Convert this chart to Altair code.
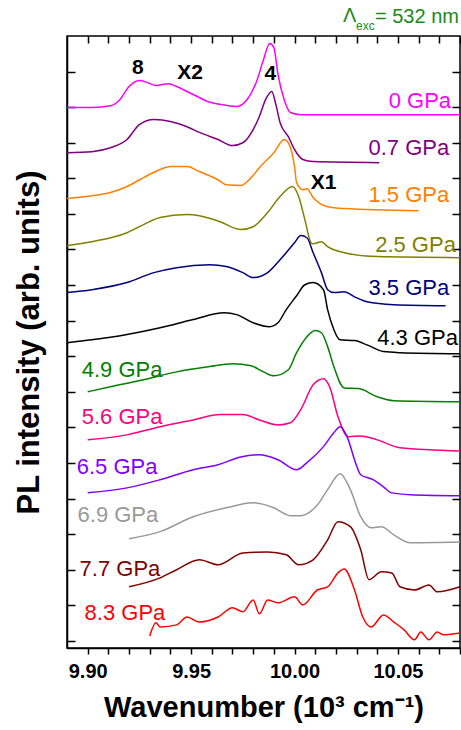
import altair as alt
import pandas as pd

FONT = "Liberation Sans"

series_names = ["0 GPa", "0.7 GPa", "1.5 GPa", "2.5 GPa", "3.5 GPa", "4.3 GPa",
                "4.9 GPa", "5.6 GPa", "6.5 GPa", "6.9 GPa", "7.7 GPa", "8.3 GPa"]
series_colors = ["#ff00ff", "#800080", "#ff8000", "#808000", "#000080", "#000000",
                 "#008000", "#ff0080", "#8000ff", "#999999", "#800000", "#ff0000"]

# spectra (wavenumber in 10^3 cm^-1, PL intensity in arb. units incl. vertical offset)
wn_00 = [9.890, 9.902, 9.911, 9.9155, 9.920, 9.925, 9.929, 9.933, 9.939, 9.943, 9.948, 9.953, 9.958,
         9.964, 9.972, 9.977, 9.982, 9.985, 9.988, 9.990, 9.992, 9.995, 9.998, 10.003, 10.080]
pl_00 = [14.99, 14.99, 15.04, 15.21, 15.58, 15.75, 15.69, 15.61, 15.66, 15.58, 15.44, 15.30, 15.16,
         15.08, 15.02, 15.21, 15.78, 16.34, 16.79, 16.68, 15.92, 15.21, 14.85, 14.79, 14.79]

wn_07 = [9.890, 9.902, 9.911, 9.919, 9.925, 9.932, 9.940, 9.948, 9.954, 9.963, 9.970, 9.975, 9.980,
         9.983, 9.986, 9.989, 9.991, 9.993, 9.997, 10.000, 10.004, 10.009, 10.041]
pl_07 = [13.72, 13.75, 13.86, 14.09, 14.51, 14.65, 14.60, 14.45, 14.29, 14.09, 13.92, 14.00, 14.37,
         14.74, 15.21, 15.44, 15.07, 14.57, 14.17, 13.81, 13.53, 13.47, 13.44]

wn_15 = [9.890, 9.902, 9.911, 9.919, 9.927, 9.935, 9.940, 9.948, 9.954, 9.963, 9.967, 9.974, 9.979,
         9.983, 9.990, 9.995, 9.997, 10.000, 10.001, 10.004, 10.006, 10.009, 10.016, 10.024, 10.060]
pl_15 = [12.43, 12.51, 12.60, 12.77, 13.02, 13.25, 13.33, 13.33, 13.19, 12.96, 12.82, 12.80, 13.02,
         13.30, 13.72, 14.09, 14.00, 13.33, 12.88, 12.68, 12.71, 12.46, 12.20, 12.15, 12.09]

wn_25 = [9.890, 9.902, 9.919, 9.927, 9.935, 9.948, 9.954, 9.964, 9.974, 9.980, 9.987, 9.993, 9.999,
         10.002, 10.005, 10.008, 10.009, 10.013, 10.016, 10.024, 10.040, 10.080]
pl_25 = [11.11, 11.22, 11.47, 11.70, 11.90, 11.98, 11.95, 11.78, 11.56, 11.64, 12.04, 12.49, 12.77,
         12.49, 11.84, 11.19, 11.16, 11.22, 11.08, 10.91, 10.80, 10.77]

wn_35 = [9.890, 9.902, 9.919, 9.932, 9.943, 9.959, 9.967, 9.975, 9.980, 9.987, 9.993, 10.000, 10.003,
         10.006, 10.009, 10.013, 10.016, 10.019, 10.024, 10.029, 10.035, 10.048, 10.073]
pl_35 = [9.79, 9.87, 10.07, 10.35, 10.49, 10.57, 10.52, 10.35, 10.21, 10.35, 10.71, 11.19, 11.39,
         11.33, 10.91, 10.35, 9.87, 9.79, 9.81, 9.67, 9.53, 9.45, 9.42]

wn_43 = [9.890, 9.902, 9.919, 9.935, 9.951, 9.966, 9.972, 9.980, 9.988, 9.992, 9.996, 10.001, 10.005,
         10.009, 10.014, 10.016, 10.019, 10.022, 10.029, 10.035, 10.043, 10.051, 10.080]
pl_43 = [8.38, 8.46, 8.61, 8.80, 9.03, 9.22, 9.17, 8.94, 8.83, 8.94, 9.31, 9.70, 10.01,
         10.07, 9.87, 9.31, 8.75, 8.46, 8.44, 8.32, 8.13, 8.10, 8.07]

wn_49 = [9.900, 9.911, 9.927, 9.943, 9.959, 9.970, 9.979, 9.985, 9.990, 9.997, 10.001, 10.006, 10.010,
         10.013, 10.016, 10.019, 10.024, 10.031, 10.040, 10.048, 10.080]
pl_49 = [7.00, 7.14, 7.34, 7.56, 7.71, 7.79, 7.73, 7.56, 7.45, 7.62, 8.10, 8.55, 8.72,
         8.66, 8.27, 7.71, 7.11, 7.09, 6.86, 6.75, 6.72]

wn_56 = [9.900, 9.919, 9.935, 9.951, 9.964, 9.975, 9.983, 9.992, 9.998, 10.003, 10.009, 10.014, 10.017,
         10.021, 10.026, 10.032, 10.040, 10.051, 10.080]
pl_56 = [5.65, 5.79, 6.02, 6.21, 6.36, 6.36, 6.21, 6.07, 6.13, 6.50, 7.20, 7.37, 7.14,
         6.30, 5.74, 5.76, 5.65, 5.43, 5.34]

wn_65 = [9.900, 9.919, 9.935, 9.951, 9.963, 9.974, 9.983, 9.992, 10.001, 10.006, 10.014, 10.019, 10.022,
         10.026, 10.029, 10.032, 10.038, 10.043, 10.047, 10.056, 10.080]
pl_65 = [4.16, 4.30, 4.53, 4.81, 4.95, 5.17, 5.23, 5.09, 4.81, 5.01, 5.46, 5.85, 6.02,
         5.65, 5.09, 4.67, 4.53, 4.33, 4.16, 4.11, 4.08]

wn_69 = [9.920, 9.935, 9.951, 9.967, 9.980, 9.990, 9.998, 10.003, 10.011, 10.016, 10.022, 10.027, 10.032,
         10.037, 10.042, 10.048, 10.056, 10.080]
pl_69 = [2.87, 3.07, 3.49, 3.74, 3.88, 3.74, 3.52, 3.52, 3.82, 4.25, 4.70, 4.25, 3.49,
         3.18, 3.21, 2.98, 2.76, 2.78]

wn_77 = [9.920, 9.935, 9.943, 9.954, 9.963, 9.975, 9.987, 9.996, 10.002, 10.009, 10.016, 10.021, 10.027,
         10.032, 10.036, 10.042, 10.047, 10.051, 10.058, 10.065, 10.069, 10.080]
pl_77 = [1.52, 1.77, 2.00, 2.28, 2.14, 2.47, 2.50, 2.42, 2.14, 2.28, 2.84, 3.35, 3.21,
         2.56, 1.72, 1.94, 1.91, 1.52, 1.43, 1.57, 1.38, 1.52]

wn_83 = [9.930, 9.933, 9.935, 9.943, 9.948, 9.954, 9.963, 9.970, 9.975, 9.980, 9.983, 9.987, 9.992,
         10.000, 10.004, 10.011, 10.016, 10.021, 10.024, 10.029, 10.033, 10.037, 10.043, 10.048,
         10.053, 10.058, 10.061, 10.065, 10.069, 10.072, 10.080]
pl_83 = [0.14, 0.51, 0.39, 0.45, 0.67, 0.53, 0.67, 0.93, 0.82, 1.15, 0.76, 1.15, 1.07,
         1.24, 1.01, 1.43, 1.52, 1.91, 2.02, 1.43, 0.67, 0.39, 0.73, 0.53,
         0.31, 0.03, 0.25, 0.03, 0.25, 0.17, 0.22]

all_wn = [wn_00, wn_07, wn_15, wn_25, wn_35, wn_43, wn_49, wn_56, wn_65, wn_69, wn_77, wn_83]
all_pl = [pl_00, pl_07, pl_15, pl_25, pl_35, pl_43, pl_49, pl_56, pl_65, pl_69, pl_77, pl_83]

# pressure labels
label_x = [10.0757, 10.0748, 10.0748, 10.0780, 10.0748, 10.0790,
           9.8971, 9.8971, 9.8947, 9.8951, 9.8961, 9.8985]
label_y = [15.16, 13.86, 12.54, 11.14, 9.93, 8.52,
           7.62, 6.30, 4.89, 3.54, 2.02, 0.79]

# peak assignments
peak_names = ["8", "X2", "4", "X1"]
peak_x = [9.9243, 9.9495, 9.9883, 10.0141]
peak_y = [16.11, 15.97, 15.92, 12.88]

x_ticks = [9.90, 9.91, 9.92, 9.93, 9.94, 9.95, 9.96, 9.97, 9.98, 9.99,
           10.00, 10.01, 10.02, 10.03, 10.04, 10.05, 10.06, 10.07, 10.08]
x_labels = ["9.90", "9.95", "10.00", "10.05"]
y_ticks = [0, 1, 2, 3, 4, 5, 6, 7, 8, 9, 10, 11, 12, 13, 14, 15, 16]

rows = []
for name, wns, pls in zip(series_names, all_wn, all_pl):
    for w, p in zip(wns, pls):
        rows.append({"series": name, "wn": w, "pl": p})
df = pd.DataFrame(rows)

lab_df = pd.DataFrame({"series": series_names, "x": label_x, "y": label_y})
peak_df = pd.DataFrame({"name": peak_names, "x": peak_x, "y": peak_y})

W, H = 393, 612
xs = alt.Scale(domain=[9.89, 10.08], nice=False, zero=False)
ys = alt.Scale(domain=[-0.2, 17.0], nice=False, zero=False)
cs = alt.Scale(domain=series_names, range=series_colors)

label_expr = "indexof(" + str(x_labels) + ", format(datum.value, '.2f')) >= 0 ? format(datum.value, '.2f') : ''"

lines = alt.Chart(df).mark_line(strokeWidth=1.5, interpolate="monotone").encode(
    x=alt.X("wn:Q", scale=xs, axis=alt.Axis(
        values=x_ticks, labelExpr=label_expr, labelOverlap=False, grid=False,
        tickSize=6, tickWidth=1.5, tickColor="black", domainColor="black", domainWidth=1.5,
        labelFont=FONT, labelFontSize=20, labelFontWeight="bold", labelColor="black", labelPadding=7,
        title="Wavenumber (10³ cm⁻¹)", titleFont=FONT, titleFontSize=29, titleFontWeight="bold",
        titleColor="black", titlePadding=12)),
    y=alt.Y("pl:Q", scale=ys, axis=alt.Axis(
        ticks=False, labels=False, grid=False, domainColor="black", domainWidth=1.5,
        title="PL intensity (arb. units)", titleFont=FONT, titleFontSize=31, titleFontWeight="bold",
        titleColor="black", titlePadding=22)),
    color=alt.Color("series:N", scale=cs, legend=None),
)

# inward ticks on the top and left edges
ticks_tl = alt.Chart(df).mark_point(opacity=0).encode(
    x=alt.X("wn:Q", scale=xs, axis=alt.Axis(
        orient="bottom", offset=-H, values=x_ticks, labels=False, domain=False, grid=False,
        tickSize=7, tickWidth=1.5, tickColor="black", title="")),
    y=alt.Y("pl:Q", scale=ys, axis=alt.Axis(
        orient="right", offset=-W, values=y_ticks, labels=False, domain=False, grid=False,
        tickSize=8, tickWidth=1.5, tickColor="black", title="")),
)

# inward ticks on the right edge
ticks_r = alt.Chart(df).mark_point(opacity=0).encode(
    x=alt.X("wn:Q", scale=xs, axis=None),
    y=alt.Y("pl:Q", scale=ys, axis=alt.Axis(
        orient="left", offset=-W, values=y_ticks, labels=False, domain=False, grid=False,
        tickSize=8, tickWidth=1.5, tickColor="black", title="")),
)

labels_r = alt.Chart(lab_df.iloc[:6]).mark_text(
    align="right", baseline="middle", font=FONT, fontSize=22).encode(
    x=alt.X("x:Q", scale=xs, axis=None),
    y=alt.Y("y:Q", scale=ys, axis=None),
    text="series:N",
    color=alt.Color("series:N", scale=cs, legend=None),
)
labels_l = alt.Chart(lab_df.iloc[6:]).mark_text(
    align="left", baseline="middle", font=FONT, fontSize=22).encode(
    x=alt.X("x:Q", scale=xs, axis=None),
    y=alt.Y("y:Q", scale=ys, axis=None),
    text="series:N",
    color=alt.Color("series:N", scale=cs, legend=None),
)

peaks = alt.Chart(peak_df).mark_text(
    align="center", baseline="middle", font=FONT, fontSize=21, fontWeight="bold", color="black").encode(
    x=alt.X("x:Q", scale=xs, axis=None),
    y=alt.Y("y:Q", scale=ys, axis=None),
    text="name:N",
)

exc_color = "#1a8a1a"
lam = alt.Chart(pd.DataFrame({"t": ["Λ"]})).mark_text(
    align="left", baseline="alphabetic", font=FONT, fontSize=20, color=exc_color).encode(
    x=alt.value(276), y=alt.value(-14), text="t:N")
sub = alt.Chart(pd.DataFrame({"t": ["exc"]})).mark_text(
    align="left", baseline="alphabetic", font=FONT, fontSize=12, color=exc_color).encode(
    x=alt.value(289), y=alt.value(-6), text="t:N")
rest = alt.Chart(pd.DataFrame({"t": ["= 532 nm"]})).mark_text(
    align="left", baseline="alphabetic", font=FONT, fontSize=20, color=exc_color).encode(
    x=alt.value(308), y=alt.value(-13), text="t:N")

chart = alt.layer(lines, ticks_tl, ticks_r, labels_r, labels_l, peaks, lam, sub, rest).resolve_scale(
    x="independent", y="independent", color="shared"
).properties(
    width=W, height=H,
    padding={"left": 67, "top": 36, "right": 1, "bottom": 82},
    autosize=alt.AutoSizeParams(type="none"),
    background="white",
).configure_view(stroke="black", strokeWidth=1.5)

chart.save("out.html", embed_options={"renderer": "svg", "actions": False})
